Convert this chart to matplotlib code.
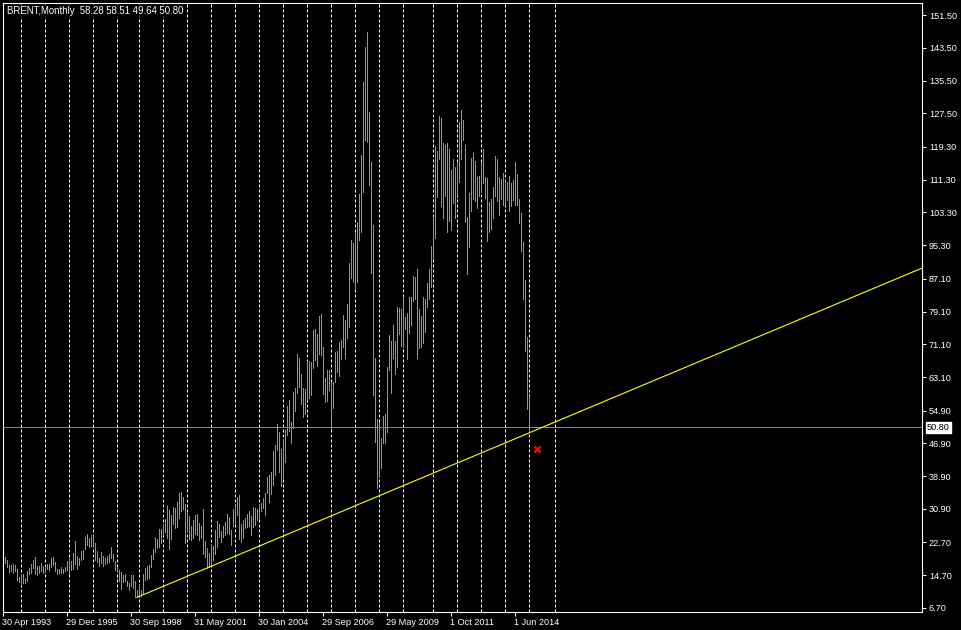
import matplotlib
matplotlib.use("Agg")
import matplotlib.pyplot as plt
import matplotlib.transforms as mtransforms

# monthly BRENT bars, left to right (high / low)
highs = [
    18.8, 19.2, 18.4, 17.2, 17.2, 17.4, 17.1, 16.2, 14.3, 15.0,
    15.0, 14.1, 15.8, 16.5, 17.4, 18.4, 19.2, 17.0, 17.0, 17.7,
    17.0, 17.0, 17.4, 17.4, 18.8, 19.2, 17.9, 16.3, 16.2, 16.7,
    16.2, 16.7, 18.2, 18.8, 18.2, 20.2, 23.1, 19.4, 18.8, 20.5,
    20.9, 24.1, 24.8, 23.8, 24.6, 24.8, 22.6, 20.7, 18.9, 20.3,
    19.4, 18.8, 19.5, 19.8, 21.6, 20.0, 18.1, 16.4, 16.0, 15.5,
    14.8, 14.9, 13.4, 12.7, 14.8, 14.8, 13.3, 11.1, 12.6,
    11.1, 15.0, 16.4, 17.0, 17.2, 19.6, 21.0, 24.0, 23.6, 25.9,
    26.0, 27.1, 28.4, 31.6, 30.6, 29.4, 31.4, 31.1, 32.7, 34.9,
    35.0, 33.8, 32.1, 30.1, 29.2, 26.8, 28.3, 29.4, 29.7, 27.4,
    26.6, 30.9, 23.1, 21.3, 20.2, 22.1, 21.8, 25.7, 28.0, 27.1,
    25.5, 26.6, 27.8, 29.7, 29.0, 25.7, 30.8, 31.6, 33.9, 34.3,
    27.2, 28.3, 28.7, 29.7, 30.4, 29.2, 31.4, 31.0, 30.9, 31.9,
    32.3, 33.6, 34.7, 38.8, 39.1,
    40.0, 45.0, 46.5, 51.6, 49.6, 45.5, 47.7, 50.2, 56.0, 57.5,
    52.2, 59.5, 60.5, 68.7, 67.8, 63.8, 60.3, 60.2, 67.1, 67.0,
    66.7, 74.6, 74.8, 73.6, 78.0, 78.5, 70.5, 62.8, 64.7, 64.8,
    61.6, 62.0, 69.1, 69.5, 71.7, 72.1, 78.3, 77.0, 80.9, 90.9,
    96.6, 95.9, 98.2, 101.0, 107.8, 117.3, 135.1, 143.8, 147.4, 127.9,
    115.5, 100.2, 67.7, 52.8, 52.2, 48.3, 53.7, 54.1, 65.6, 73.4,
    72.0, 75.8, 71.9, 80.3, 79.9,
    79.7, 82.5, 77.8, 78.7, 82.7, 82.7, 87.8, 87.6, 89.5, 79.7,
    78.0, 82.7, 82.2, 86.0, 89.5, 95.2, 101.9, 119.5, 118.4, 126.9,
    126.4, 120.2, 119.8, 120.2, 118.7, 113.7, 116.3, 114.5, 115.3, 125.5,
    128.3, 125.9, 119.8, 102.3, 108.1, 116.5, 117.7, 115.9, 112.0, 112.3,
    115.7, 118.9, 111.9, 111.6, 105.9, 106.6, 109.4, 117.1, 116.3, 111.9,
    111.5, 113.0, 111.4, 110.8, 112.2, 110.4, 111.2, 115.6, 112.7, 106.6,
    103.1, 96.0, 86.8, 72.8, 58.51,
]
lows = [
    18.2, 17.7, 16.8, 15.6, 15.7, 15.2, 15.8, 13.6, 13.0, 12.4,
    12.7, 12.9, 13.4, 15.0, 15.3, 16.4, 15.0, 14.8, 15.3, 15.8,
    15.2, 15.4, 16.1, 16.0, 16.8, 17.1, 15.8, 15.1, 15.2, 15.2,
    15.2, 15.7, 16.0, 15.0, 16.0, 16.3, 17.4, 16.2, 17.1, 18.3,
    18.6, 21.0, 22.1, 21.6, 21.9, 21.8, 18.4, 17.9, 17.0, 17.6,
    16.9, 17.4, 17.8, 17.9, 18.8, 18.1, 16.0, 15.6, 13.3, 11.3,
    13.0, 13.3, 12.0, 11.1, 12.0, 11.7, 9.5, 9.3, 9.9,
    9.6, 10.3, 13.5, 13.7, 14.1, 16.8, 18.7, 20.4, 21.4, 21.5,
    22.5, 24.5, 25.3, 23.9, 21.0, 23.6, 27.1, 26.2, 26.4, 28.6,
    30.5, 30.9, 22.5, 25.3, 23.5, 23.3, 23.9, 24.8, 24.5, 23.4,
    23.7, 20.0, 19.1, 16.4, 16.8, 17.1, 18.4, 20.0, 21.7, 24.1,
    22.8, 24.1, 24.5, 25.1, 24.7, 22.2, 26.8, 27.4, 29.5, 23.6,
    22.7, 23.7, 26.3, 26.5, 26.7, 24.6, 26.5, 27.0, 28.2, 28.4,
    30.5, 31.0, 29.5, 34.7, 32.7,
    34.5, 36.7, 39.2, 45.3, 40.0, 36.6, 38.4, 42.3, 48.9, 49.9,
    47.1, 50.6, 54.9, 59.1, 60.7, 56.5, 53.4, 54.1, 57.5, 57.9,
    58.7, 65.2, 67.3, 65.9, 68.7, 68.5, 59.0, 57.1, 57.3, 60.0,
    50.4, 55.6, 62.0, 64.4, 63.4, 67.4, 70.5, 67.8, 72.6, 75.4,
    87.2, 86.2, 84.8, 86.4, 96.6, 98.6, 108.2, 121.0, 120.6, 110.0,
    88.6, 58.6, 47.2, 35.9, 39.0, 41.0, 46.9, 46.9, 49.6, 64.7,
    59.1, 67.7, 63.8, 65.6, 73.5,
    70.7, 70.5, 74.8, 67.5, 73.8, 75.8, 81.7, 82.1, 67.8, 70.1,
    70.5, 71.3, 74.2, 80.3, 82.1, 85.2, 92.0, 97.1, 107.0, 116.3,
    104.9, 102.0, 107.2, 98.4, 101.3, 99.0, 105.5, 102.0, 107.6, 110.8,
    116.3, 121.0, 101.0, 88.2, 94.9, 103.6, 106.6, 106.2, 104.4, 107.2,
    108.6, 110.6, 106.7, 96.4, 98.4, 99.2, 101.9, 107.2, 106.1, 102.7,
    106.5, 105.1, 105.1, 106.3, 103.6, 104.9, 106.3, 105.1, 105.1, 100.8,
    93.9, 82.1, 69.5, 55.2, 49.64,
]

# bar numbers where the yearly grid lines fall
year_starts = [9, 21, 33, 45, 57, 68, 80, 92, 104, 116, 128, 140,
               152, 164, 176, 188, 200, 215, 227, 239, 251, 263, 276]

date_bars = [0, 32, 64, 96, 128, 160, 192, 224, 256]
date_labels = ["30 Apr 1993", "29 Dec 1995", "30 Sep 1998", "31 May 2001",
               "30 Jan 2004", "29 Sep 2006", "29 May 2009", "1 Oct 2011",
               "1 Jun 2014"]

price_ticks = [151.5, 143.5, 135.5, 127.5, 119.3, 111.3, 103.3, 95.3, 87.1,
               79.1, 71.1, 63.1, 54.9, 46.9, 38.9, 30.9, 22.7, 14.7, 6.7]
price_labels = ["151.50", "143.50", "135.50", "127.50", "119.30", "111.30",
                "103.30", "95.30", "87.10", "79.10", "71.10", "63.10",
                "54.90", "46.90", "38.90", "30.90", "22.70", "14.70", "6.70"]

last_price = 50.80
header = "BRENT,Monthly  58.28 58.51 49.64 50.80"

# trend line anchors (bar, price) and the stop mark
trend_bars = [67, 263]
trend_prices = [9.3, 49.45]
stop_bar = 267
stop_price = 45.6

plt.rcParams["font.family"] = ["Liberation Sans", "DejaVu Sans"]
plt.rcParams["font.size"] = 6.6

W, H = 962, 630
fig = plt.figure(figsize=(W / 100, H / 100), dpi=100, facecolor="black")
left, right, top, bottom = 2.5, 922, 2.5, 612
ax = fig.add_axes([left / W, 1 - bottom / H, (right - left) / W, (bottom - top) / H])
ax.set_facecolor("black")
ax.set_xlim(-0.25, 459.5)
ax.set_ylim(5.72, 154.56)

# yearly dashed grid
for b in year_starts:
    ax.axvline(b, color="white", lw=0.72, ls=(0, (3, 2)), zorder=1)

# bars
bars = list(range(len(highs)))
ax.vlines(bars, lows, highs, colors="#1fe81f", lw=0.72, antialiased=False, zorder=2)

# last price line
ax.axhline(last_price, color="#778899", lw=0.72, zorder=3)

# trend ray
slope = (trend_prices[1] - trend_prices[0]) / (trend_bars[1] - trend_bars[0])
x_end = ax.get_xlim()[1]
ax.plot([trend_bars[0], x_end],
        [trend_prices[0], trend_prices[0] + slope * (x_end - trend_bars[0])],
        color="yellow", lw=0.8, zorder=4)

ax.plot(stop_bar, stop_price, marker="x", color="red", ms=5, mew=1.8, zorder=5)

for s in ax.spines.values():
    s.set_color("white")
    s.set_linewidth(0.8)

# date axis
ax.set_xticks(date_bars, date_labels)
ax.tick_params(axis="x", colors="white", length=3, width=0.8, pad=1)
shift = mtransforms.ScaledTranslation(-1 / 100, 0, fig.dpi_scale_trans)
for lbl in ax.get_xticklabels():
    lbl.set_horizontalalignment("left")
    lbl.set_transform(lbl.get_transform() + shift)

# price axis
ax.yaxis.tick_right()
ax.set_yticks(price_ticks, price_labels)
ax.tick_params(axis="y", colors="white", length=3, width=0.8, pad=2)

trans = mtransforms.blended_transform_factory(ax.transAxes, ax.transData)
ax.text(1.0, last_price, "50.80",
        transform=trans + mtransforms.ScaledTranslation(5 / 100, 0, fig.dpi_scale_trans),
        color="black", va="center", ha="left",
        bbox=dict(facecolor="white", edgecolor="white", pad=1.0))

fig.text(7 / W, 1 - 11 / H, header, color="white", va="center", ha="left",
         fontsize=6.9, bbox=dict(facecolor="black", edgecolor="none", pad=1), zorder=10)

fig.savefig("out.png", dpi=100, facecolor="black")
